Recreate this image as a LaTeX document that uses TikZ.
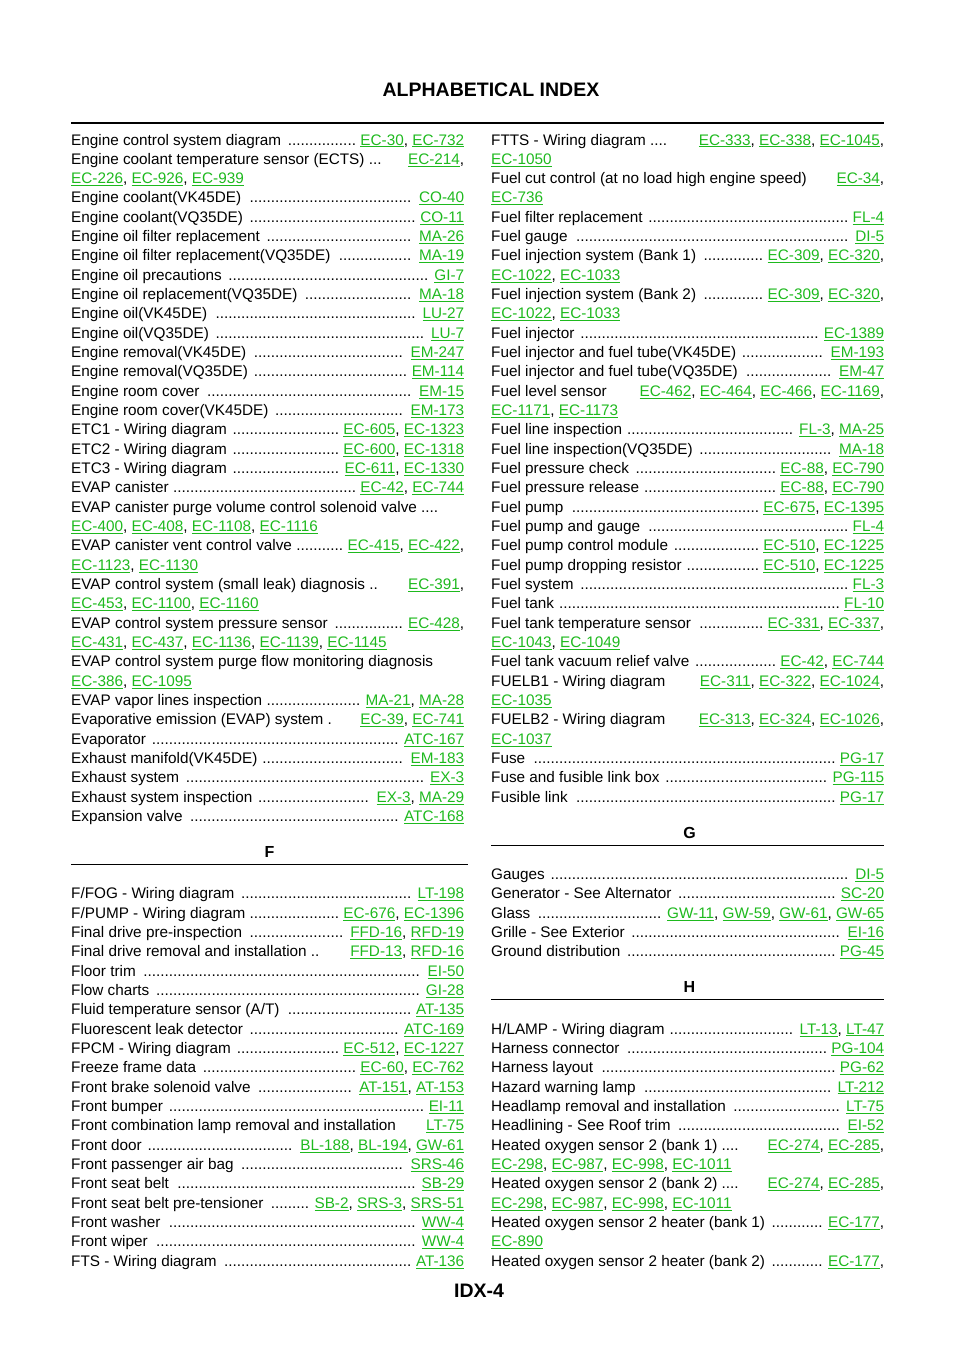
\documentclass[tikz,border=0pt]{standalone}
\usepackage{fontspec}
\setmainfont{Liberation Sans}
\definecolor{lkc}{RGB}{30,185,30}
\newcommand\lk[1]{\textcolor{lkc}{\underline{#1}}}
\newcommand\dl{\ \leaders\hbox{.}\hfill\ }
\newcommand\hs{\hfill}
\newcommand\Lrow[2]{\node[anchor=base west,inner sep=0] (l#1) at (71,{145+19.33*#1}) {\hbox to 393pt{#2}};}
\newcommand\Rrow[2]{\node[anchor=base west,inner sep=0] (r#1) at (491,{145+19.33*#1}) {\hbox to 393pt{#2}};}
\begin{document}
\begin{tikzpicture}[x=1pt,y=-1pt,font=\fontsize{15.3}{18}\selectfont,
  hdr/.style={font=\fontsize{16}{18}\selectfont\bfseries,inner sep=0}]
\useasboundingbox (0,0) rectangle (960,1358);
\node[font=\fontsize{19.5}{22}\selectfont\bfseries,inner sep=0] (title) at (491,90) {ALPHABETICAL INDEX};
\draw[line width=2.5pt] (71,123) -- (884,123);
\node[font=\fontsize{19.5}{22}\selectfont\bfseries,inner sep=0] (foot) at (479,1291) {IDX-4};
% left column
\Lrow{0}{Engine control system diagram\dl\lk{EC-30}, \lk{EC-732}}
\Lrow{1}{Engine coolant temperature sensor (ECTS) ... \hs\lk{EC-214},}
\Lrow{2}{\lk{EC-226}, \lk{EC-926}, \lk{EC-939}\hss}
\Lrow{3}{Engine coolant(VK45DE)\dl\lk{CO-40}}
\Lrow{4}{Engine coolant(VQ35DE)\dl\lk{CO-11}}
\Lrow{5}{Engine oil filter replacement\dl\lk{MA-26}}
\Lrow{6}{Engine oil filter replacement(VQ35DE)\dl\lk{MA-19}}
\Lrow{7}{Engine oil precautions\dl\lk{GI-7}}
\Lrow{8}{Engine oil replacement(VQ35DE)\dl\lk{MA-18}}
\Lrow{9}{Engine oil(VK45DE)\dl\lk{LU-27}}
\Lrow{10}{Engine oil(VQ35DE)\dl\lk{LU-7}}
\Lrow{11}{Engine removal(VK45DE)\dl\lk{EM-247}}
\Lrow{12}{Engine removal(VQ35DE)\dl\lk{EM-114}}
\Lrow{13}{Engine room cover\dl\lk{EM-15}}
\Lrow{14}{Engine room cover(VK45DE)\dl\lk{EM-173}}
\Lrow{15}{ETC1 - Wiring diagram\dl\lk{EC-605}, \lk{EC-1323}}
\Lrow{16}{ETC2 - Wiring diagram\dl\lk{EC-600}, \lk{EC-1318}}
\Lrow{17}{ETC3 - Wiring diagram\dl\lk{EC-611}, \lk{EC-1330}}
\Lrow{18}{EVAP canister\dl\lk{EC-42}, \lk{EC-744}}
\Lrow{19}{EVAP canister purge volume control solenoid valve ....\hss}
\Lrow{20}{\lk{EC-400}, \lk{EC-408}, \lk{EC-1108}, \lk{EC-1116}\hss}
\Lrow{21}{EVAP canister vent control valve\dl\lk{EC-415}, \lk{EC-422},}
\Lrow{22}{\lk{EC-1123}, \lk{EC-1130}\hss}
\Lrow{23}{EVAP control system (small leak) diagnosis .. \hs\lk{EC-391},}
\Lrow{24}{\lk{EC-453}, \lk{EC-1100}, \lk{EC-1160}\hss}
\Lrow{25}{EVAP control system pressure sensor\dl\lk{EC-428},}
\Lrow{26}{\lk{EC-431}, \lk{EC-437}, \lk{EC-1136}, \lk{EC-1139}, \lk{EC-1145}\hss}
\Lrow{27}{EVAP control system purge flow monitoring diagnosis\hss}
\Lrow{28}{\lk{EC-386}, \lk{EC-1095}\hss}
\Lrow{29}{EVAP vapor lines inspection\dl\lk{MA-21}, \lk{MA-28}}
\Lrow{30}{Evaporative emission (EVAP) system . \hs\lk{EC-39}, \lk{EC-741}}
\Lrow{31}{Evaporator\dl\lk{ATC-167}}
\Lrow{32}{Exhaust manifold(VK45DE)\dl\lk{EM-183}}
\Lrow{33}{Exhaust system\dl\lk{EX-3}}
\Lrow{34}{Exhaust system inspection\dl\lk{EX-3}, \lk{MA-29}}
\Lrow{35}{Expansion valve\dl\lk{ATC-168}}
\node[hdr] (hF) at (269.5,852) {F};
\draw[line width=1.2pt] (71,864.5) -- (468,864.5);
\Lrow{39}{F/FOG - Wiring diagram\dl\lk{LT-198}}
\Lrow{40}{F/PUMP - Wiring diagram\dl\lk{EC-676}, \lk{EC-1396}}
\Lrow{41}{Final drive pre-inspection\dl\lk{FFD-16}, \lk{RFD-19}}
\Lrow{42}{Final drive removal and installation .. \hs\lk{FFD-13}, \lk{RFD-16}}
\Lrow{43}{Floor trim\dl\lk{EI-50}}
\Lrow{44}{Flow charts\dl\lk{GI-28}}
\Lrow{45}{Fluid temperature sensor (A/T)\dl\lk{AT-135}}
\Lrow{46}{Fluorescent leak detector\dl\lk{ATC-169}}
\Lrow{47}{FPCM - Wiring diagram\dl\lk{EC-512}, \lk{EC-1227}}
\Lrow{48}{Freeze frame data\dl\lk{EC-60}, \lk{EC-762}}
\Lrow{49}{Front brake solenoid valve\dl\lk{AT-151}, \lk{AT-153}}
\Lrow{50}{Front bumper\dl\lk{EI-11}}
\Lrow{51}{Front combination lamp removal and installation \hs\lk{LT-75}}
\Lrow{52}{Front door\dl\lk{BL-188}, \lk{BL-194}, \lk{GW-61}}
\Lrow{53}{Front passenger air bag\dl\lk{SRS-46}}
\Lrow{54}{Front seat belt\dl\lk{SB-29}}
\Lrow{55}{Front seat belt pre-tensioner\dl\lk{SB-2}, \lk{SRS-3}, \lk{SRS-51}}
\Lrow{56}{Front washer\dl\lk{WW-4}}
\Lrow{57}{Front wiper\dl\lk{WW-4}}
\Lrow{58}{FTS - Wiring diagram\dl\lk{AT-136}}
% right column
\Rrow{0}{FTTS - Wiring diagram .... \hs\lk{EC-333}, \lk{EC-338}, \lk{EC-1045},}
\Rrow{1}{\lk{EC-1050}\hss}
\Rrow{2}{Fuel cut control (at no load high engine speed) \hs\lk{EC-34},}
\Rrow{3}{\lk{EC-736}\hss}
\Rrow{4}{Fuel filter replacement\dl\lk{FL-4}}
\Rrow{5}{Fuel gauge\dl\lk{DI-5}}
\Rrow{6}{Fuel injection system (Bank 1)\dl\lk{EC-309}, \lk{EC-320},}
\Rrow{7}{\lk{EC-1022}, \lk{EC-1033}\hss}
\Rrow{8}{Fuel injection system (Bank 2)\dl\lk{EC-309}, \lk{EC-320},}
\Rrow{9}{\lk{EC-1022}, \lk{EC-1033}\hss}
\Rrow{10}{Fuel injector\dl\lk{EC-1389}}
\Rrow{11}{Fuel injector and fuel tube(VK45DE)\dl\lk{EM-193}}
\Rrow{12}{Fuel injector and fuel tube(VQ35DE)\dl\lk{EM-47}}
\Rrow{13}{Fuel level sensor \hs\lk{EC-462}, \lk{EC-464}, \lk{EC-466}, \lk{EC-1169},}
\Rrow{14}{\lk{EC-1171}, \lk{EC-1173}\hss}
\Rrow{15}{Fuel line inspection\dl\lk{FL-3}, \lk{MA-25}}
\Rrow{16}{Fuel line inspection(VQ35DE)\dl\lk{MA-18}}
\Rrow{17}{Fuel pressure check\dl\lk{EC-88}, \lk{EC-790}}
\Rrow{18}{Fuel pressure release\dl\lk{EC-88}, \lk{EC-790}}
\Rrow{19}{Fuel pump\dl\lk{EC-675}, \lk{EC-1395}}
\Rrow{20}{Fuel pump and gauge\dl\lk{FL-4}}
\Rrow{21}{Fuel pump control module\dl\lk{EC-510}, \lk{EC-1225}}
\Rrow{22}{Fuel pump dropping resistor\dl\lk{EC-510}, \lk{EC-1225}}
\Rrow{23}{Fuel system\dl\lk{FL-3}}
\Rrow{24}{Fuel tank\dl\lk{FL-10}}
\Rrow{25}{Fuel tank temperature sensor\dl\lk{EC-331}, \lk{EC-337},}
\Rrow{26}{\lk{EC-1043}, \lk{EC-1049}\hss}
\Rrow{27}{Fuel tank vacuum relief valve\dl\lk{EC-42}, \lk{EC-744}}
\Rrow{28}{FUELB1 - Wiring diagram \hs\lk{EC-311}, \lk{EC-322}, \lk{EC-1024},}
\Rrow{29}{\lk{EC-1035}\hss}
\Rrow{30}{FUELB2 - Wiring diagram \hs\lk{EC-313}, \lk{EC-324}, \lk{EC-1026},}
\Rrow{31}{\lk{EC-1037}\hss}
\Rrow{32}{Fuse\dl\lk{PG-17}}
\Rrow{33}{Fuse and fusible link box\dl\lk{PG-115}}
\Rrow{34}{Fusible link\dl\lk{PG-17}}
\node[hdr] (hG) at (689.5,833) {G};
\draw[line width=1.2pt] (491,845.5) -- (884,845.5);
\Rrow{38}{Gauges\dl\lk{DI-5}}
\Rrow{39}{Generator - See Alternator\dl\lk{SC-20}}
\Rrow{40}{Glass\dl\lk{GW-11}, \lk{GW-59}, \lk{GW-61}, \lk{GW-65}}
\Rrow{41}{Grille - See Exterior\dl\lk{EI-16}}
\Rrow{42}{Ground distribution\dl\lk{PG-45}}
\node[hdr] (hH) at (689.5,987) {H};
\draw[line width=1.2pt] (491,999.5) -- (884,999.5);
\Rrow{46}{H/LAMP - Wiring diagram\dl\lk{LT-13}, \lk{LT-47}}
\Rrow{47}{Harness connector\dl\lk{PG-104}}
\Rrow{48}{Harness layout\dl\lk{PG-62}}
\Rrow{49}{Hazard warning lamp\dl\lk{LT-212}}
\Rrow{50}{Headlamp removal and installation\dl\lk{LT-75}}
\Rrow{51}{Headlining - See Roof trim\dl\lk{EI-52}}
\Rrow{52}{Heated oxygen sensor 2 (bank 1) .... \hs\lk{EC-274}, \lk{EC-285},}
\Rrow{53}{\lk{EC-298}, \lk{EC-987}, \lk{EC-998}, \lk{EC-1011}\hss}
\Rrow{54}{Heated oxygen sensor 2 (bank 2) .... \hs\lk{EC-274}, \lk{EC-285},}
\Rrow{55}{\lk{EC-298}, \lk{EC-987}, \lk{EC-998}, \lk{EC-1011}\hss}
\Rrow{56}{Heated oxygen sensor 2 heater (bank 1)\dl\lk{EC-177},}
\Rrow{57}{\lk{EC-890}\hss}
\Rrow{58}{Heated oxygen sensor 2 heater (bank 2)\dl\lk{EC-177},}
\end{tikzpicture}
\end{document}
